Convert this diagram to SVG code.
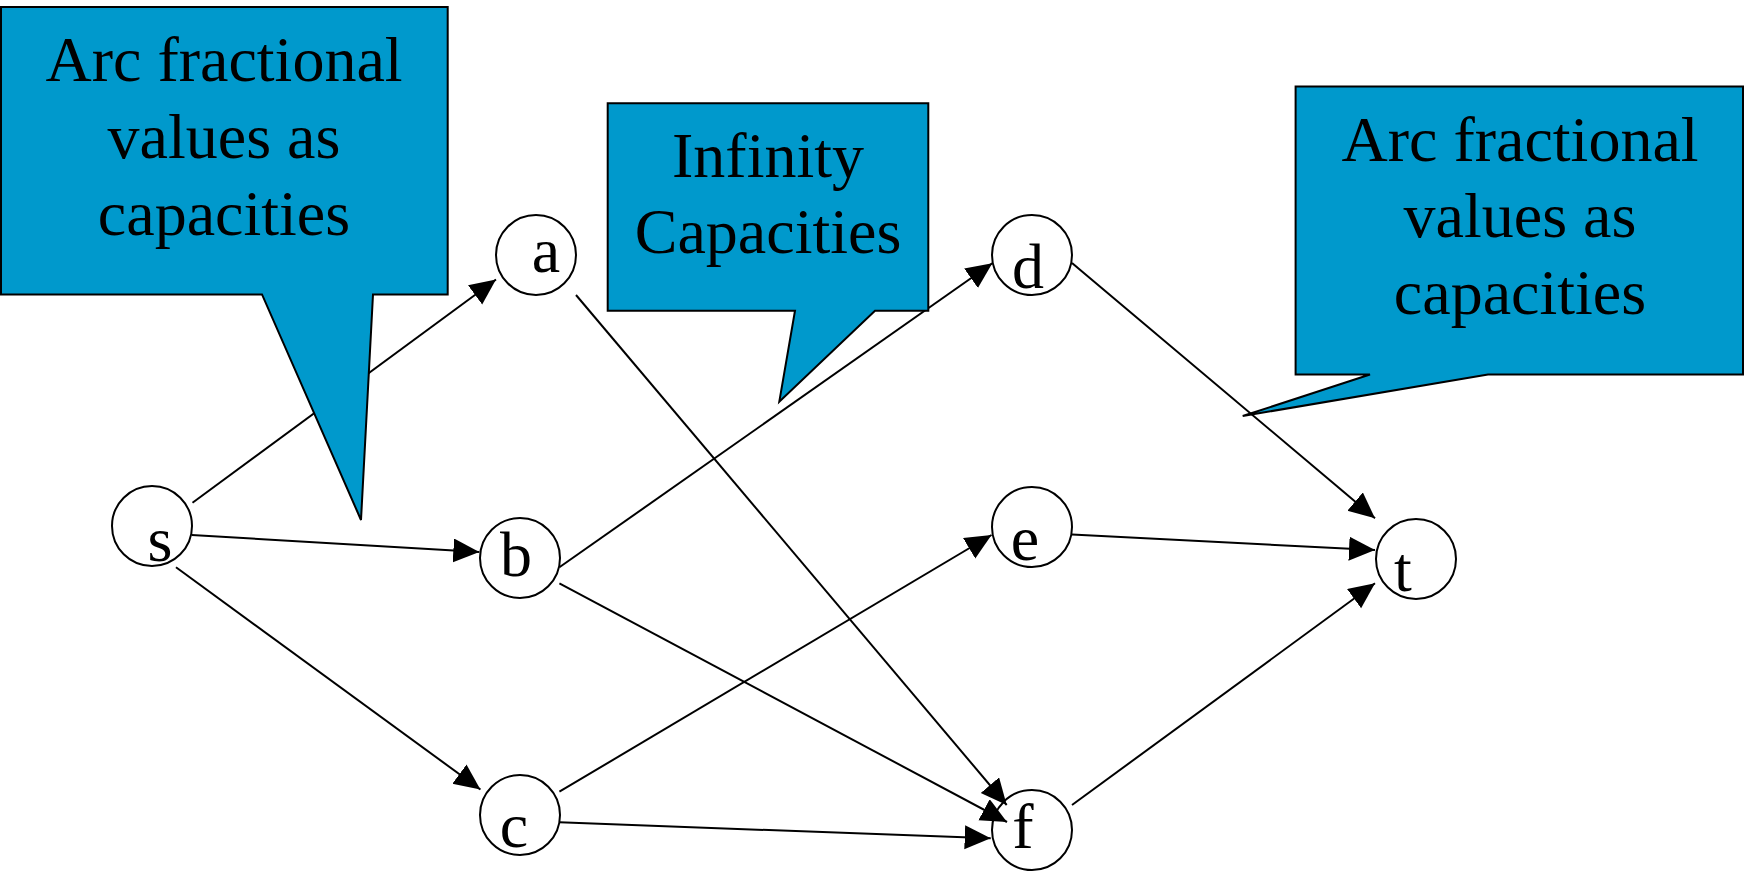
<svg xmlns="http://www.w3.org/2000/svg" width="1744" height="871" viewBox="0 0 1744 871">
  <style>
    .node circle { fill: #ffffff; stroke: #000000; stroke-width: 2; }
    .label { font-family: "Liberation Serif", "Times New Roman", serif; font-size: 64px; fill: #000000; text-anchor: middle; }
    .edge { stroke: #000000; stroke-width: 2; fill: none; marker-end: url(#arrow); }
    .callout path { fill: #0099cc; stroke: #000000; stroke-width: 2; stroke-linejoin: miter; }
  </style>
  <defs>
    <marker id="arrow" markerUnits="userSpaceOnUse" markerWidth="28" markerHeight="26" refX="26" refY="12" orient="auto">
      <path d="M0,0 L26,12 L0,24 Z" fill="#000000"/>
    </marker>
  </defs>
  <rect width="1744" height="871" fill="#ffffff"/>

  <!-- nodes -->
  <g id="node-s" class="node"><circle cx="152" cy="526" r="40"/><text class="label" x="160" y="561">s</text></g>
  <g id="node-a" class="node"><circle cx="536" cy="255" r="40"/><text class="label" x="546" y="272">a</text></g>
  <g id="node-b" class="node"><circle cx="520" cy="558" r="40"/><text class="label" x="516" y="576">b</text></g>
  <g id="node-c" class="node"><circle cx="520" cy="815" r="40"/><text class="label" x="514" y="847">c</text></g>
  <g id="node-d" class="node"><circle cx="1032" cy="255" r="40"/><text class="label" x="1028" y="288">d</text></g>
  <g id="node-e" class="node"><circle cx="1032" cy="527" r="40"/><text class="label" x="1025" y="560">e</text></g>
  <g id="node-f" class="node"><circle cx="1032" cy="830" r="40"/><text class="label" x="1023" y="848">f</text></g>
  <g id="node-t" class="node"><circle cx="1416" cy="559" r="40"/><text class="label" x="1403" y="591">t</text></g>

  <!-- arcs -->
  <g id="connectors">
    <line class="edge" x1="192.5" y1="502.8" x2="496" y2="279.5"/>
    <line class="edge" x1="191.7" y1="535" x2="479.3" y2="552"/>
    <line class="edge" x1="176" y1="567.3" x2="480.4" y2="789.5"/>
    <line class="edge" x1="576" y1="295" x2="1006.7" y2="805"/>
    <line class="edge" x1="559.4" y1="567.3" x2="992.3" y2="263.3"/>
    <line class="edge" x1="559.4" y1="583.3" x2="1007" y2="822"/>
    <line class="edge" x1="559.4" y1="791.7" x2="991.5" y2="535"/>
    <line class="edge" x1="559.4" y1="822.3" x2="990.7" y2="838.3"/>
    <line class="edge" x1="1072" y1="262.9" x2="1375" y2="518.3"/>
    <line class="edge" x1="1072" y1="534.6" x2="1375" y2="550"/>
    <line class="edge" x1="1072" y1="805" x2="1375" y2="583.3"/>
  </g>

  <!-- callouts -->
  <g id="callout-left" class="callout">
    <path d="M1,7 H447.7 V294.4 H373 L361,520 L262,294.4 H1 Z"/>
    <text class="label" x="224" y="81">Arc fractional</text>
    <text class="label" x="224" y="158">values as</text>
    <text class="label" x="224" y="235">capacities</text>
  </g>
  <g id="callout-middle" class="callout">
    <path d="M607.7,103.3 H928.3 V310.7 H875 L779.3,401.7 L795,310.7 H607.7 Z"/>
    <text class="label" x="768" y="177">Infinity</text>
    <text class="label" x="768" y="253">Capacities</text>
  </g>
  <g id="callout-right" class="callout">
    <path d="M1295.6,86.4 H1743 V374.5 H1488 L1242.7,416 L1370,374.5 H1295.6 Z"/>
    <text class="label" x="1520" y="161">Arc fractional</text>
    <text class="label" x="1520" y="237">values as</text>
    <text class="label" x="1520" y="314">capacities</text>
  </g>
</svg>
